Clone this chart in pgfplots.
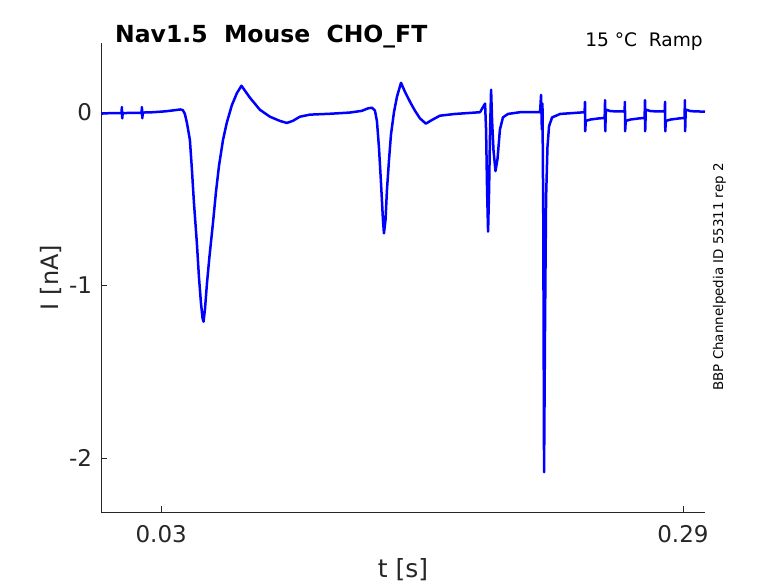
\documentclass[border=0pt]{standalone}
\usepackage{pgfplots}
\pgfplotsset{compat=1.18}
\usepackage{fontspec}
\setmainfont{DejaVu Sans}
\definecolor{axgray}{rgb}{0.15,0.15,0.15}
\begin{document}
\begin{tikzpicture}
\useasboundingbox (-101bp,-71bp) rectangle (677bp,512bp);
\begin{axis}[
  scale only axis,
  width=604bp, height=469bp,
  xmin=0, xmax=0.301,
  ymin=-2.31, ymax=0.40,
  axis x line=bottom, axis y line=left,
  axis line style={-, axgray, line width=0.6bp},
  tick style={axgray, line width=0.6bp},
  tick align=inside,
  major tick length=6bp,
  xtick={0.03,0.29}, xticklabels={0.03,0.29},
  ytick={-2,-1,0}, yticklabels={-2,-1,0},
  xticklabel style={anchor=base, inner sep=0pt, yshift=-30.7bp, font=\fontsize{23bp}{27bp}\selectfont, text=axgray},
  yticklabel style={anchor=east, inner sep=0pt, xshift=-8.8bp, font=\fontsize{23bp}{27bp}\selectfont, text=axgray},
  clip=true,
]
\addplot[color={rgb,255:red,0;green,0;blue,255}, line width=2.5bp, line join=round] coordinates {
(0.0000,-0.008) (0.0050,-0.005) (0.0102,-0.006) (0.0104,0.03) (0.0106,-0.035) (0.0108,-0.005)
(0.0150,-0.004) (0.0202,-0.003) (0.0204,0.03) (0.0206,-0.035) (0.0208,-0.002)
(0.0260,0.000) (0.0320,0.005) (0.0370,0.012) (0.0395,0.016) (0.0408,0.012)
(0.0418,-0.01) (0.0428,-0.06) (0.0443,-0.16) (0.0453,-0.33) (0.0463,-0.52)
(0.0478,-0.76) (0.0488,-0.95) (0.0498,-1.10) (0.0506,-1.19) (0.0511,-1.21)
(0.0518,-1.14) (0.0528,-0.99) (0.0540,-0.84) (0.0558,-0.64) (0.0573,-0.46)
(0.0588,-0.31) (0.0608,-0.16) (0.0627,-0.06) (0.0652,0.04) (0.0677,0.11)
(0.0700,0.153) (0.0742,0.084) (0.0792,0.014) (0.0842,-0.026) (0.0891,-0.05)
(0.0926,-0.062) (0.0956,-0.05) (0.0991,-0.026) (0.1041,-0.014) (0.1140,-0.009)
(0.1240,-0.002) (0.1300,0.008) (0.1330,0.022) (0.1350,0.026) (0.1365,0.010)
(0.1375,-0.05) (0.1385,-0.2) (0.1395,-0.4) (0.1405,-0.62) (0.1410,-0.70)
(0.1418,-0.62) (0.1425,-0.45) (0.1435,-0.28) (0.1445,-0.13) (0.1460,0.0)
(0.1475,0.09) (0.1495,0.17) (0.1514,0.12) (0.1540,0.06) (0.1564,0.01)
(0.1589,-0.035) (0.1619,-0.066) (0.1649,-0.045) (0.1689,-0.02) (0.1764,-0.01)
(0.1839,-0.004) (0.1889,0.0) (0.1904,0.03) (0.1914,0.05) (0.1919,-0.1)
(0.1924,-0.45) (0.1929,-0.69) (0.1934,-0.45) (0.1939,-0.1) (0.1944,0.13)
(0.1949,-0.05) (0.1956,-0.22) (0.1966,-0.34) (0.1976,-0.27) (0.1988,-0.10)
(0.2003,-0.03) (0.2028,-0.01) (0.2088,0.0) (0.2188,0.0) (0.2193,0.10)
(0.2197,-0.10) (0.2200,0.05) (0.2204,-0.6) (0.2208,-2.08) (0.2213,-1.2)
(0.2218,-0.5) (0.2225,-0.2) (0.2233,-0.08) (0.2248,-0.03) (0.2288,-0.01)
(0.2410,0.0)
(0.2412,0.06) (0.2413,-0.11) (0.2416,-0.05) (0.2440,-0.042) (0.2480,-0.036) (0.2510,-0.033)
(0.2512,0.07) (0.2513,-0.11) (0.2516,0.015) (0.2540,0.006) (0.2609,0.004)
(0.2611,0.06) (0.2612,-0.11) (0.2615,-0.05) (0.2640,-0.042) (0.2680,-0.036) (0.2709,-0.033)
(0.2711,0.07) (0.2712,-0.11) (0.2715,0.015) (0.2740,0.006) (0.2809,0.004)
(0.2811,0.06) (0.2812,-0.11) (0.2815,-0.05) (0.2840,-0.042) (0.2880,-0.036) (0.2908,-0.033)
(0.2910,0.07) (0.2911,-0.11) (0.2914,0.015) (0.2940,0.006) (0.3010,0.003)
};
\end{axis}
\node[anchor=base west, inner sep=0pt, font=\bfseries\fontsize{23.5bp}{28bp}\selectfont] at (14bp,469.5bp) {Nav1.5\ \ Mouse\ \ CHO\_FT};
\node[anchor=base east, inner sep=0pt, font=\fontsize{18.6bp}{22bp}\selectfont] at (602bp,465bp) {15 °C\ \ Ramp};
\node[anchor=base, rotate=90, inner sep=0pt, font=\fontsize{13.4bp}{16bp}\selectfont] at (622bp,235bp) {BBP Channelpedia ID 55311 rep 2};
\node[anchor=base, rotate=90, inner sep=0pt, text=axgray, font=\fontsize{24bp}{28bp}\selectfont] at (-42.4bp,234.5bp) {I [nA]};
\node[anchor=base, inner sep=0pt, text=axgray, font=\fontsize{25bp}{30bp}\selectfont] at (302bp,-65bp) {t [s]};
\end{tikzpicture}
\end{document}
